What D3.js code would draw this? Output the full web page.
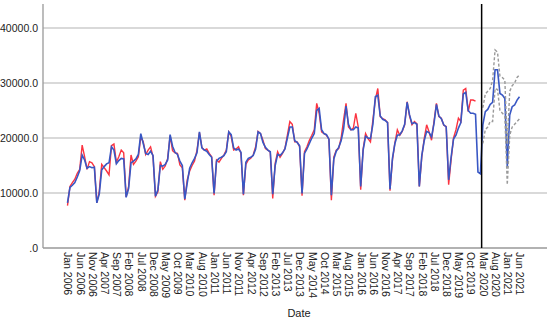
<!DOCTYPE html>
<html>
<head>
<meta charset="utf-8">
<script src="https://cdn.jsdelivr.net/npm/d3@7"></script>
<style>
    body { margin: 0; background: #fff; }
    svg { display: block; font-family: Arial, "Liberation Sans", sans-serif; }
</style>
</head>
<body>
<svg id="chart" width="550" height="321"></svg>
<script>

// ##################################################
// #  Data (monthly, index 0 = Jan 2006)            #
// ##################################################

// observed, Jan 2006 - Dec 2019
let observed = [
    7700, 11200, 11900, 12500, 13600, 14300, 18700, 16600, 14300, 15700, 15500, 14800,   // 2006
    8200, 10300, 15200, 14600, 14000, 13300, 18600, 18900, 15600, 16600, 17800, 17300,   // 2007
    9300, 11100, 16900, 15200, 15800, 16600, 20200, 19300, 17000, 17800, 18400, 16600,   // 2008
    9400, 10200, 15700, 14300, 14900, 16300, 20400, 17700, 17300, 17200, 15100, 14600,   // 2009
    8700, 12400, 14000, 15000, 15800, 17800, 21000, 18300, 17800, 18000, 17200, 16600,   // 2010
    9600, 16000, 15600, 16300, 16900, 17800, 21100, 20300, 17800, 18000, 18400, 17200,   // 2011
    9600, 15200, 16000, 16300, 16900, 18400, 21200, 20800, 19600, 18100, 17800, 17400,   // 2012
    9000, 15400, 17500, 16500, 17200, 18100, 20500, 23000, 22500, 19300, 19300, 18400,   // 2013
    9500, 17500, 18400, 19600, 20500, 21500, 26300, 24500, 21100, 20800, 20500, 19800,   // 2014
    8700, 16500, 17800, 18100, 20000, 23300, 26300, 22000, 21500, 21800, 24500, 22000,   // 2015
    10600, 18000, 20800, 19900, 19300, 23300, 27000, 29000, 23900, 23500, 23300, 22800,  // 2016
    10400, 16000, 19100, 21500, 20500, 21200, 22400, 26600, 24000, 22400, 23000, 22600,  // 2017
    11200, 16500, 19900, 22400, 21100, 19600, 23000, 26300, 23900, 23600, 22300, 22100,  // 2018
    11500, 16000, 20000, 21500, 23600, 23000, 28700, 29000, 24800, 26900, 26900, 26700   // 2019
];

// fitted, Jan 2006 - Feb 2020
let fitted = [
    8200, 11000, 11400, 11900, 12900, 14100, 16900, 16000, 14500, 14800, 14600, 14700,
    8200, 9800, 14200, 14800, 15300, 15500, 18400, 17800, 15300, 15900, 16300, 16200,
    9200, 10800, 15500, 15800, 16200, 17000, 20800, 19000, 17200, 17000, 17600, 16800,
    9400, 10600, 15000, 14900, 15200, 16000, 20600, 18500, 17400, 17000, 15800, 15000,
    8900, 11800, 14500, 15500, 16300, 17300, 21100, 18200, 17800, 17600, 17000, 16500,
    9900, 15800, 16300, 16500, 16800, 17500, 21100, 20600, 18200, 17800, 18000, 17400,
    9800, 15600, 16300, 16500, 16800, 18000, 21100, 20800, 19200, 18300, 17800, 17500,
    9800, 15000, 17000, 16800, 17300, 18000, 20000, 22000, 22000, 19500, 19200, 18600,
    9900, 17200, 18000, 19000, 20000, 20800, 25000, 25400, 21500, 20800, 20600, 19800,
    9600, 16200, 17600, 18300, 19500, 21600, 25800, 22500, 21500, 21500, 22000, 21800,
    11200, 17800, 20300, 20000, 19900, 22500, 27500, 27800, 24000, 23400, 23200, 22800,
    10700, 16300, 19000, 20500, 20600, 21300, 22500, 26500, 24200, 22600, 22800, 22500,
    11200, 16800, 19500, 21200, 21000, 20200, 22600, 26100, 24000, 23500, 22400, 22000,
    12400, 16500, 19800, 20500, 21800, 22800, 28000, 28300, 25000, 24500, 24500, 24300,
    13800, 13500
];

// forecast, Mar 2020 - Jun 2021
let forecast = [22400, 24800, 25200, 26100, 26500, 32400, 32400, 28100, 27800, 27200, 14800, 24200, 25700, 26000, 26900, 27500];
let upperCL  = [25500, 28000, 28500, 29000, 30500, 36000, 35600, 31200, 31000, 30500, 19000, 28500, 29500, 30000, 31000, 31500];
let lowerCL  = [19000, 21500, 22000, 23000, 23000, 29000, 28800, 25000, 24500, 24000, 11500, 20500, 22000, 22500, 23000, 23500];

let forecastStart = 170;   // Mar 2020

let yTicks = [0, 10000, 20000, 30000, 40000];

// every fifth month
let xTickLabels = [
    'Jan 2006', 'Jun 2006', 'Nov 2006', 'Apr 2007', 'Sep 2007', 'Feb 2008', 'Jul 2008', 'Dec 2008',
    'May 2009', 'Oct 2009', 'Mar 2010', 'Aug 2010', 'Jan 2011', 'Jun 2011', 'Nov 2011', 'Apr 2012',
    'Sep 2012', 'Feb 2013', 'Jul 2013', 'Dec 2013', 'May 2014', 'Oct 2014', 'Mar 2015', 'Aug 2015',
    'Jan 2016', 'Jun 2016', 'Nov 2016', 'Apr 2017', 'Sep 2017', 'Feb 2018', 'Jul 2018', 'Dec 2018',
    'May 2019', 'Oct 2019', 'Mar 2020', 'Aug 2020', 'Jan 2021', 'Jun 2021'
];
let xTickStep = 5;

// ##################################################
// #  Chart                                         #
// ##################################################

let svg = d3.select('#chart');

let plotLeft = 43;
let plotRight = 547;
let plotTop = 4;
let plotBottom = 248;

let x = d3.scaleLinear()
    .domain([0, 185])
    .range([67.5, 519.5]);

let y = d3.scaleLinear()
    .domain([0, 40000])
    .range([plotBottom, 28]);

let fitSeries = fitted.map((v, i) => ({ i, v }))
    .concat(forecast.map((v, i) => ({ i: forecastStart + i, v })));
let obsSeries = observed.map((v, i) => ({ i, v }));
let upperSeries = upperCL.map((v, i) => ({ i: forecastStart + i, v }));
let lowerSeries = lowerCL.map((v, i) => ({ i: forecastStart + i, v }));

let line = d3.line()
    .x(d => x(d.i))
    .y(d => y(d.v));

// grid
svg.append('g')
    .attr('class', 'grid')
    .selectAll('line')
    .data(yTicks.filter(d => d > 0))
    .enter()
    .append('line')
    .attr('x1', plotLeft)
    .attr('x2', plotRight)
    .attr('y1', d => y(d))
    .attr('y2', d => y(d))
    .attr('stroke', '#cccccc')
    .attr('stroke-width', 1.5);

// y axis
let yAxis = d3.axisLeft(y)
    .tickValues(yTicks)
    .tickSize(0)
    .tickPadding(5)
    .tickFormat(d => d === 0 ? '.0' : d3.format('.1f')(d));

svg.append('g')
    .attr('class', 'y-axis')
    .attr('transform', `translate(${plotLeft},0)`)
    .call(yAxis)
    .call(g => g.select('.domain').remove())
    .selectAll('text')
    .attr('font-size', 10.5)
    .attr('font-family', 'Arial, "Liberation Sans", sans-serif')
    .attr('fill', '#222');

svg.append('line')
    .attr('x1', plotLeft).attr('x2', plotLeft)
    .attr('y1', plotTop).attr('y2', plotBottom)
    .attr('stroke', '#999')
    .attr('stroke-width', 1.3);

// x axis
let xAxis = d3.axisBottom(x)
    .tickValues(xTickLabels.map((d, i) => i * xTickStep))
    .tickSize(0)
    .tickFormat((d, i) => xTickLabels[i]);

let xAxisGroup = svg.append('g')
    .attr('class', 'x-axis')
    .attr('transform', `translate(0,${plotBottom})`)
    .call(xAxis)
    .call(g => g.select('.domain').remove());

xAxisGroup.selectAll('text')
    .attr('font-size', 10.5)
    .attr('font-family', 'Arial, "Liberation Sans", sans-serif')
    .attr('fill', '#222')
    .attr('text-anchor', 'start')
    .attr('transform', 'rotate(90)')
    .attr('x', 4)
    .attr('y', 0)
    .attr('dy', '0.35em');

svg.append('line')
    .attr('x1', plotLeft).attr('x2', plotRight)
    .attr('y1', plotBottom).attr('y2', plotBottom)
    .attr('stroke', '#999')
    .attr('stroke-width', 1.3);

svg.append('text')
    .attr('x', 299)
    .attr('y', 317)
    .attr('text-anchor', 'middle')
    .attr('font-size', 11)
    .attr('fill', '#222')
    .text('Date');

// series
svg.append('path')
    .datum(obsSeries)
    .attr('fill', 'none')
    .attr('stroke', '#fb3340')
    .attr('stroke-width', 1.4)
    .attr('d', line);

svg.append('path')
    .datum(fitSeries)
    .attr('fill', 'none')
    .attr('stroke', '#3857c4')
    .attr('stroke-width', 1.6)
    .attr('d', line);

svg.selectAll('.bound')
    .data([upperSeries, lowerSeries])
    .enter()
    .append('path')
    .attr('class', 'bound')
    .attr('fill', 'none')
    .attr('stroke', '#9a9a9a')
    .attr('stroke-width', 1.4)
    .attr('stroke-dasharray', '3,2')
    .attr('d', line);

// forecast reference line, between last fit and first forecast month
svg.append('line')
    .attr('x1', x(forecastStart - 0.5))
    .attr('x2', x(forecastStart - 0.5))
    .attr('y1', plotTop)
    .attr('y2', plotBottom)
    .attr('stroke', '#000')
    .attr('stroke-width', 1.5);

</script>
</body>
</html>
